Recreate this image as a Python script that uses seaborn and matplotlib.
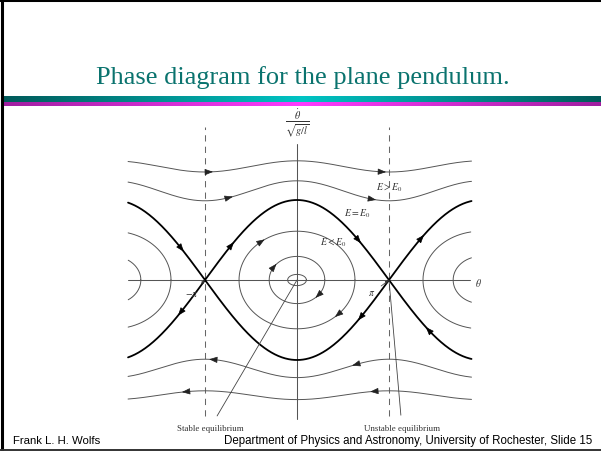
import numpy as np
import pandas as pd
import seaborn as sns
import matplotlib.pyplot as plt
from matplotlib.colors import LinearSegmentedColormap

# ---- values ----------------------------------------------------------
theta_span = [-5.77, 5.96]              # how far the curves run (rad)
separatrix_amp = 2.0                    # peak of E = E0 curve at theta = 0

# open (rotating) orbits: mean level + cosine ripple
rot_level = [2.84, 2.23, -2.21, -2.88]
rot_ripple = [0.14, 0.25, -0.23, -0.11]
rot_arrows = [[-2.97, 2.94], [-2.29, 2.60], [-2.90, 1.98], [-3.83, 2.60]]

# closed (librating) orbits: half widths in theta and theta-dot
lib_half_theta = [0.32, 0.95, 1.98]
lib_half_rate = [0.14, 0.59, 1.22]
lib_centres = [-2 * np.pi, 0.0, 2 * np.pi]
lib_arrow_deg = [[], [144, -42], [127, -46]]

sep_arrows_top = [-3.93, -2.22, 2.12, 4.27]
sep_arrows_bottom = [-4.0, 2.15, 4.47]

title = "Phase diagram for the plane pendulum."
footer_left = "Frank L. H. Wolfs"
footer_right = "Department of Physics and Astronomy, University of Rochester, Slide 15"

# ---- layout: pixel <-> data -------------------------------------------
W, H = 601, 452
OX, OY = 297, 281          # where theta=0, rate=0 sits
SX, SY = 29.28, 40.0       # px per rad, px per unit rate


def px(x, y):
    return (x - OX) / SX, (OY - y) / SY


sns.set_theme(style="white")
plt.rcParams['mathtext.fontset'] = 'stix'
plt.rcParams['font.family'] = ['Liberation Serif', 'DejaVu Serif']

fig = plt.figure(figsize=(W / 100, H / 100), dpi=100)
bg = fig.add_axes([0, 0, 1, 1])
bg.set_xlim(0, W)
bg.set_ylim(H, 0)
bg.axis('off')

# slide frame
bg.plot([1.5, 1.5], [0, 451], color='black', lw=2.2)
bg.plot([0, W], [1.2, 1.2], color='black', lw=2.2)
bg.plot([0, W], [450.5, 450.5], color='#333333', lw=1.4)

# gradient bars under the title
teal = LinearSegmentedColormap.from_list('teal', ['#005a5a', '#00c4c4', '#005a5a'])
pink = LinearSegmentedColormap.from_list('pink', ['#a01ea0', '#ff3cff', '#a01ea0'])
grad = np.linspace(0, 1, 256).reshape(1, -1)
bg.imshow(grad, cmap=teal, extent=[3, W, 102.5, 96.5], aspect='auto')
bg.imshow(grad, cmap=pink, extent=[3, W, 107, 103], aspect='auto')
bg.set_xlim(0, W)
bg.set_ylim(H, 0)

bg.text(303, 78, title, ha='center', va='center', fontsize=19,
        color='#0a736e', family=['Liberation Serif'])
bg.text(13, 441, footer_left, ha='left', va='center', fontsize=8.2,
        color='black', family=['Liberation Sans'])
bg.text(592, 441, footer_right, ha='right', va='center', fontsize=8.3,
        color='black', family=['Liberation Sans'])

# ---- phase plot --------------------------------------------------------
ax = fig.add_axes([0, 0, 1, 1])
ax.patch.set_alpha(0)
ax.set_xlim(-OX / SX, (W - OX) / SX)
ax.set_ylim((OY - H) / SY, OY / SY)
ax.axis('off')

thin = dict(color='#555555', lw=0.7)
thick = dict(color='black', lw=1.3)


def arrow(x, y, dx, dy, color):
    n = np.hypot(dx * SX, dy * SY)
    ax.annotate("", xy=(x + dx / n * 3, y + dy / n * 3), xytext=(x, y),
                arrowprops=dict(arrowstyle="-|>,head_length=0.42,head_width=0.16",
                                color=color, lw=0.5, shrinkA=0, shrinkB=0))


th = np.linspace(theta_span[0], theta_span[1], 600)

# axes and dashed lines at +-pi
ax.plot([px(128, 0)[0], px(470, 0)[0]], [0, 0], color='#555555', lw=0.75)
ax.plot([0, 0], [px(0, 420)[1], px(0, 145)[1]], color='#555555', lw=0.75)
for s in (-1, 1):
    ax.plot([s * np.pi] * 2, [px(0, 417)[1], px(0, 128)[1]], color='#666666',
            lw=0.75, dashes=(6, 5))

# separatrix
sep = pd.DataFrame({'theta': th, 'up': separatrix_amp * np.abs(np.cos(th / 2))})
sns.lineplot(data=sep, x='theta', y='up', ax=ax, **thick)
sep['down'] = -sep['up']
sns.lineplot(data=sep, x='theta', y='down', ax=ax, **thick)
for t in sep_arrows_top:
    d = -separatrix_amp * np.sign(np.cos(t / 2)) * np.sin(t / 2) / 2
    arrow(t, separatrix_amp * abs(np.cos(t / 2)), 1, d, 'black')
for t in sep_arrows_bottom:
    d = -separatrix_amp * np.sign(np.cos(t / 2)) * np.sin(t / 2) / 2
    arrow(t, -separatrix_amp * abs(np.cos(t / 2)), -1, d, 'black')

# rotating orbits
for c, a, arr in zip(rot_level, rot_ripple, rot_arrows):
    df = pd.DataFrame({'theta': th, 'rate': c + a * np.cos(th)})
    sns.lineplot(data=df, x='theta', y='rate', ax=ax, **thin)
    sgn = 1 if c > 0 else -1
    for t in arr:
        arrow(t, c + a * np.cos(t), sgn, -sgn * a * np.sin(t), '#222222')

# librating orbits
phi = np.linspace(0, 2 * np.pi, 400)
for xc in lib_centres:
    for a, b, angs in zip(lib_half_theta, lib_half_rate, lib_arrow_deg):
        x = xc + a * np.cos(phi)
        keep = (x >= theta_span[0]) & (x <= theta_span[1])
        if not keep.any():
            continue
        df = pd.DataFrame({'theta': np.where(keep, x, np.nan),
                           'rate': np.where(keep, b * np.sin(phi), np.nan)})
        ax.plot(df['theta'], df['rate'], **thin)
        if xc == 0:
            for g in angs:
                p = np.radians(g)
                arrow(a * np.cos(p), b * np.sin(p), a * np.sin(p), -b * np.cos(p), '#222222')

# labels
lab = dict(fontsize=7, color='#333333', ha='center', va='center')
ax.text(*px(389, 188), r'$E > E_0$', **lab)
ax.text(*px(357, 214), r'$E = E_0$', **lab)
ax.text(*px(333, 243), r'$E < E_0$', **lab)
ax.text(*px(478, 283), r'$\theta$', **lab)
ax.text(*px(297, 124), r'$\frac{\dot{\theta}}{\sqrt{g/l}}$', fontsize=10.5,
        color='#333333', ha='center', va='center')
ax.annotate(r'$-\pi$', xy=(-np.pi, 0), xytext=px(192, 295), fontsize=7,
            color='#333333', ha='center', va='center',
            arrowprops=dict(arrowstyle='-|>,head_length=0.3,head_width=0.12',
                            color='#333333', lw=0.5, shrinkA=2, shrinkB=0))
ax.annotate(r'$\pi$', xy=(np.pi, 0), xytext=px(372, 294), fontsize=7,
            color='#333333', ha='center', va='center',
            arrowprops=dict(arrowstyle='-|>,head_length=0.3,head_width=0.12',
                            color='#333333', lw=0.5, shrinkA=2, shrinkB=0))
ax.annotate('Stable equilibrium', xy=(0, 0), xytext=px(210, 429), fontsize=6.4,
            color='#333333', ha='center', va='center',
            arrowprops=dict(arrowstyle='-', color='#444444', lw=0.6,
                            shrinkA=4, shrinkB=0))
ax.annotate('Unstable equilibrium', xy=(np.pi, 0), xytext=px(402, 429), fontsize=6.4,
            color='#333333', ha='center', va='center',
            arrowprops=dict(arrowstyle='-', color='#444444', lw=0.6,
                            shrinkA=4, shrinkB=0))

fig.savefig('out.png', dpi=100)
